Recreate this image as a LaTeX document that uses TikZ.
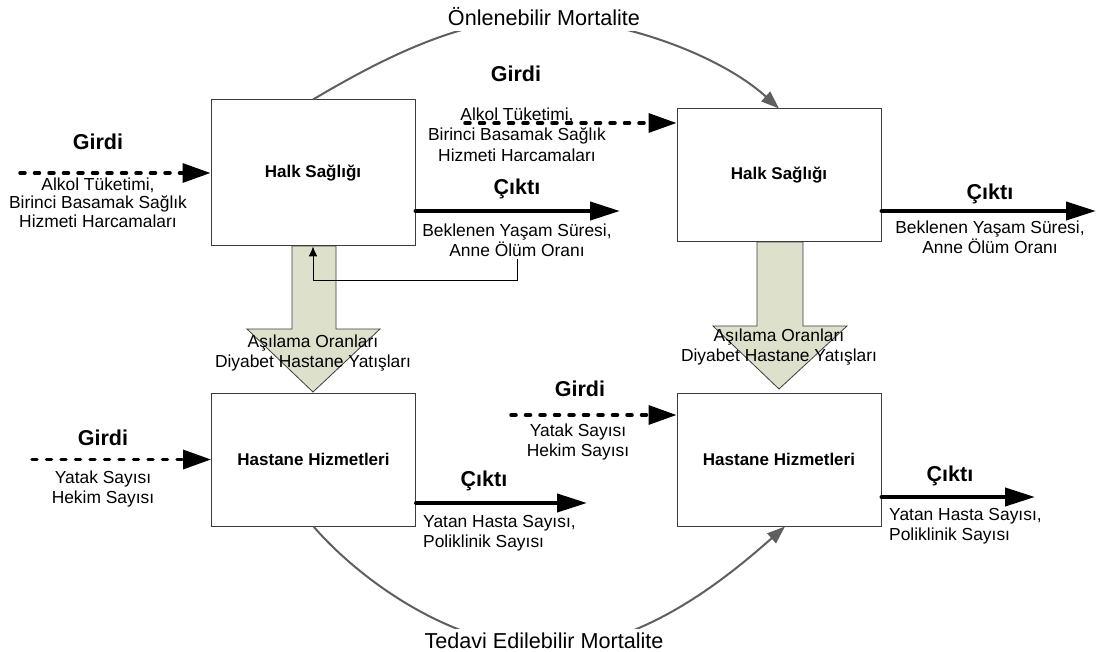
\documentclass[tikz,border=0pt]{standalone}
\usepackage{fontspec}
\setmainfont{Liberation Sans}
\usetikzlibrary{arrows.meta}
\definecolor{blockfill}{RGB}{221,225,204}
\definecolor{curvegray}{RGB}{95,95,95}
\definecolor{boxline}{RGB}{60,60,60}
\begin{document}
\begin{tikzpicture}[x=1pt,y=-1pt,
  box/.style={draw=boxline, line width=1pt, fill=white, minimum width=204pt, inner sep=0pt, font=\fontsize{17}{19}\selectfont\bfseries},
  head/.style={anchor=base, inner sep=0pt, font=\fontsize{21.5}{24}\selectfont\bfseries},
  lbl/.style={anchor=base, inner sep=0pt, align=center, font=\fontsize{17.4}{20}\selectfont},
  lblthree/.style={anchor=base, inner sep=0pt, align=center, font=\fontsize{17.4}{18.5}\selectfont},
  lblwide/.style={anchor=base, inner sep=0pt, align=center, font=\fontsize{17.4}{20.5}\selectfont},
  lbll/.style={anchor=base west, inner sep=0pt, align=left, font=\fontsize{17.4}{20}\selectfont},
  inarrow/.style={line width=3.5pt, line cap=round, dash pattern=on 5pt off 9.5pt, -{Triangle[length=28pt,width=19pt]}},
  outarrow/.style={line width=4pt, line cap=round, -{Triangle[length=30pt,width=18pt]}},
  mort/.style={draw=curvegray, line width=2pt, -{Triangle[length=18pt,width=13pt]}},
  mortlbl/.style={anchor=base, fill=white, inner xsep=2pt, font=\fontsize{21.6}{24}\selectfont},
  blockarrow/.style={draw=boxline, line width=0.8pt, fill=blockfill, line join=miter},
  fback/.style={line width=1pt, -{Latex[length=10pt,width=9pt]}},
]
\useasboundingbox (0,0) rectangle (1097,652);

% block arrows
\draw[blockarrow] (292,246) -- (292,329) -- (247,329) -- (313,392) -- (380,329) -- (336,329) -- (336,246) -- cycle;
\draw[blockarrow] (757,242) -- (757,326) -- (713,326) -- (779,389) -- (847,326) -- (803,326) -- (803,242) -- cycle;

% boxes
\node[box, minimum height=146pt] (hs1) at (313,173) {Halk Sağlığı};
\node[box, minimum height=133pt] (hs2) at (779,175.5) {Halk Sağlığı};
\node[box, minimum height=133pt] (hh1) at (313.5,459.5) {Hastane Hizmetleri};
\node[box, minimum height=133pt] (hh2) at (779,459.5) {Hastane Hizmetleri};

% mortality curves
\draw[mort] (hs1.north) .. controls (380,60) and (460,18) .. (540,18) .. controls (620,18) and (720,55) .. (hs2.north);
\draw[mort] (hh1.south) .. controls (360,580) and (450,645) .. (544,648) .. controls (640,651) and (730,575) .. ([xshift=6pt]hh2.south);
\node[mortlbl, inner ysep=5pt] (m1) at (544,26) {Önlenebilir Mortalite};
\node[mortlbl, inner ysep=3pt] (m2) at (544,648) {Tedavi Edilebilir Mortalite};

% texts (multi-line nodes: base = last line)
\node[head] (g1) at (98,150) {Girdi};
\node[lblthree] (g1t) at (98,227.5) {Alkol Tüketimi,\\Birinci Basamak Sağlık\\Hizmeti Harcamaları};
\node[head] (g2) at (516,82) {Girdi};
\node[lblwide] (g2t) at (517,161.5) {Alkol Tüketimi,\\Birinci Basamak Sağlık\\Hizmeti Harcamaları};
\node[head] (c1) at (517,195) {Çıktı};
\node[lbl] (c1t) at (517,256.5) {Beklenen Yaşam Süresi,\\Anne Ölüm Oranı};
\node[head] (c2) at (990,200) {Çıktı};
\node[lbl] (c2t) at (990,254) {Beklenen Yaşam Süresi,\\Anne Ölüm Oranı};
\node[lbl] (a1) at (313,367) {Aşılama Oranları\\Diyabet Hastane Yatışları};
\node[lbl] (a2) at (779,361) {Aşılama Oranları\\Diyabet Hastane Yatışları};
\node[head] (g3) at (103,445) {Girdi};
\node[lbl] (g3t) at (103,503.5) {Yatak Sayısı\\Hekim Sayısı};
\node[head] (c3) at (484,486) {Çıktı};
\node[lbll] (c3t) at (423,547) {Yatan Hasta Sayısı,\\Poliklinik Sayısı};
\node[head] (g4) at (580,396) {Girdi};
\node[lbl] (g4t) at (578,456.5) {Yatak Sayısı\\Hekim Sayısı};
\node[head] (c4) at (950,481) {Çıktı};
\node[lbll] (c4t) at (889,540.5) {Yatan Hasta Sayısı,\\Poliklinik Sayısı};

% input arrows
\coordinate (i1) at (20,173);
\coordinate (i2) at (465,123);
\coordinate (i3) at (32,459.5);
\coordinate (i4) at (511,415);
\draw[inarrow] (i1) -- (hs1.west);
\draw[inarrow] (i2) -- (i2 -| hs2.west);
\draw[inarrow] (i3) -- (hh1.west);
\draw[inarrow] (i4) -- (i4 -| hh2.west);

% output arrows
\coordinate (o1) at (620,211);
\coordinate (o2) at (1096,211);
\coordinate (o3) at (587,503);
\coordinate (o4) at (1035,497);
\draw[outarrow] (hs1.east |- o1) -- (o1);
\draw[outarrow] (hs2.east |- o2) -- (o2);
\draw[outarrow] (hh1.east |- o3) -- (o3);
\draw[outarrow] (hh2.east |- o4) -- (o4);

% feedback
\coordinate (fb) at (517,259);
\draw[fback] (fb) -- ++(0,21) -| (hs1.south);
\end{tikzpicture}
\end{document}
